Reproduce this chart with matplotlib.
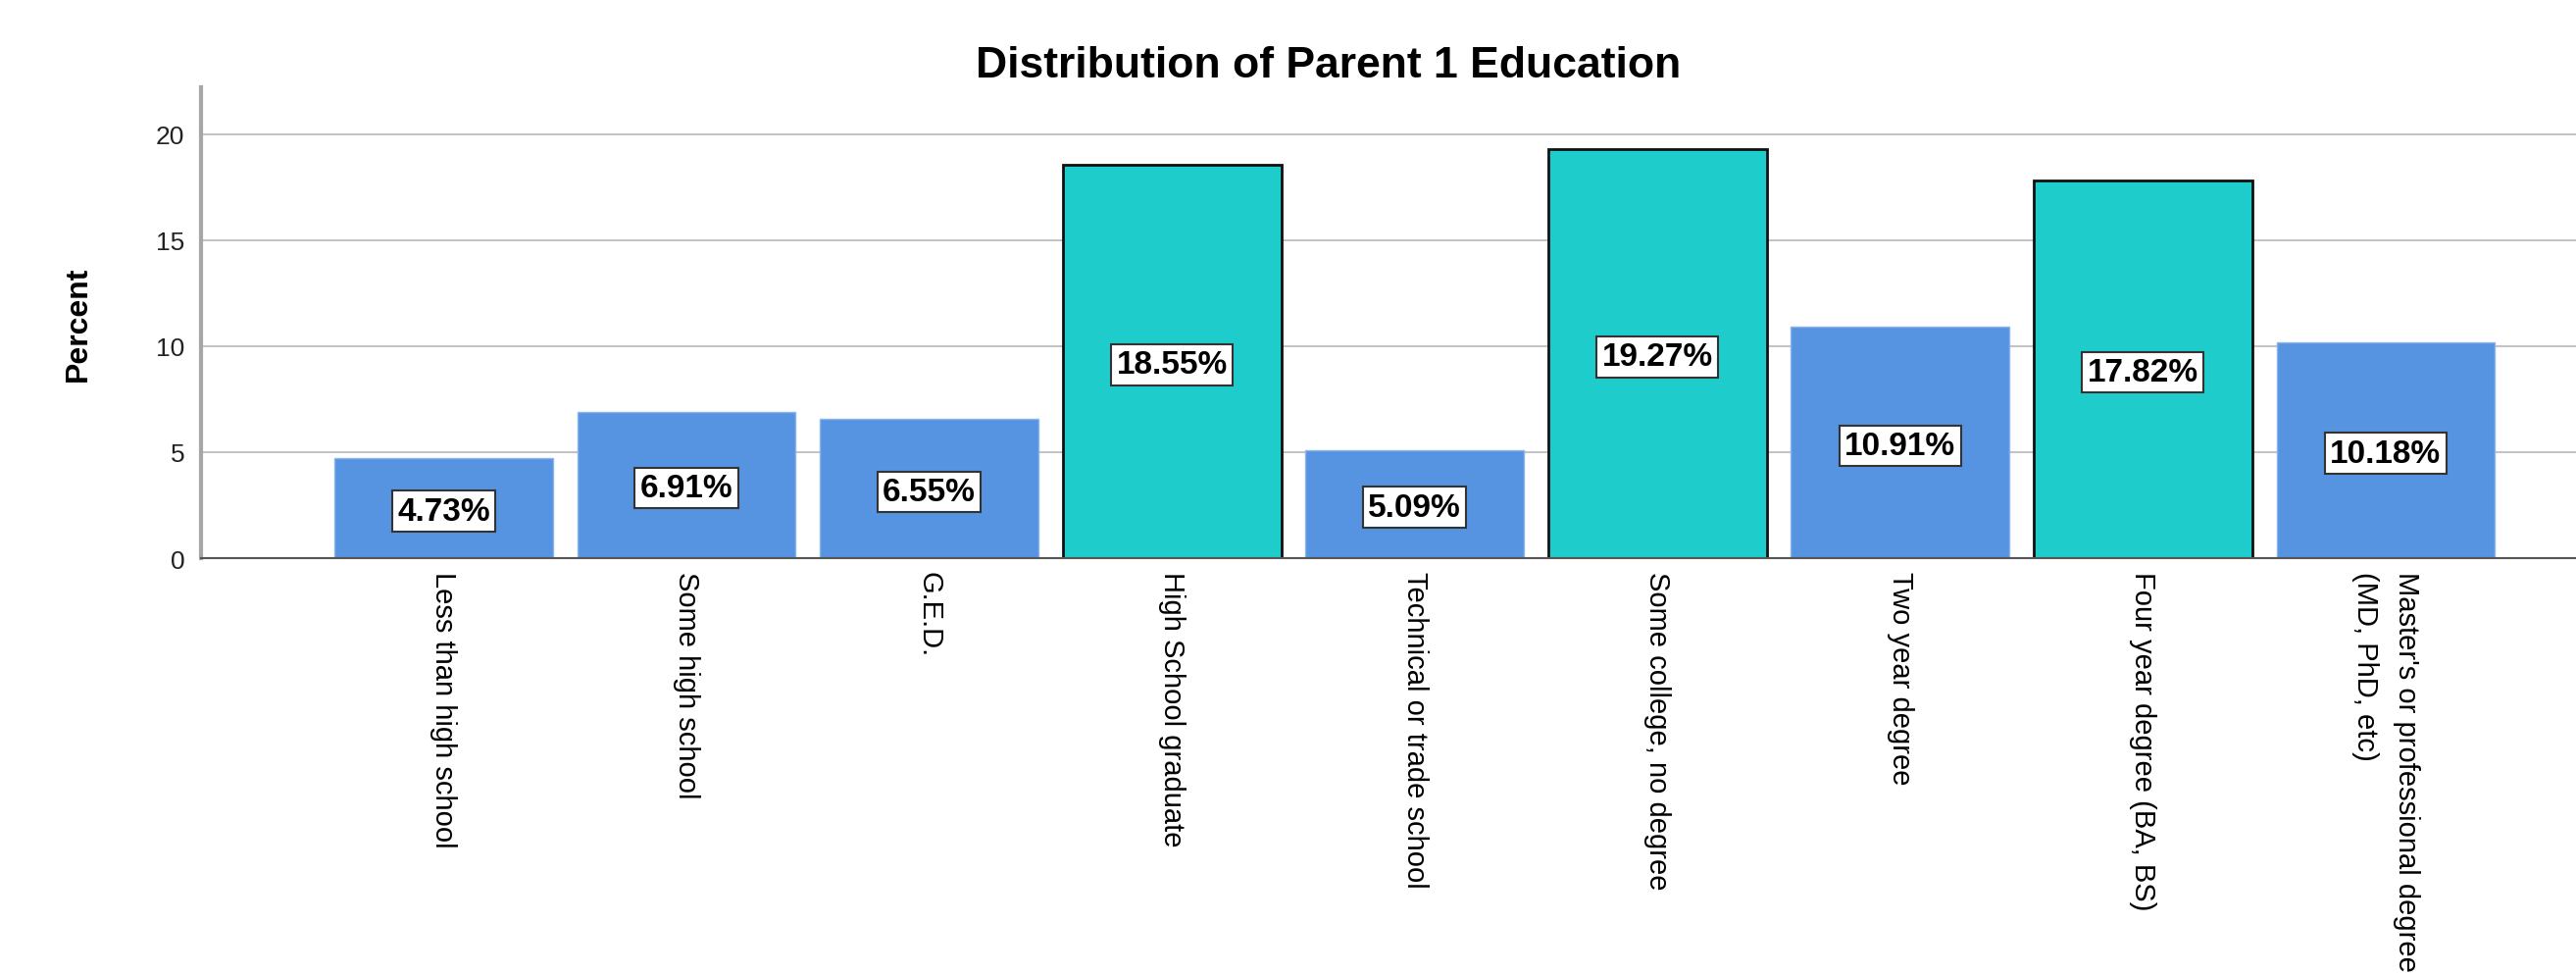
import matplotlib
matplotlib.use("Agg")
import matplotlib.pyplot as plt

plt.rcParams['font.family'] = ['Liberation Sans', 'DejaVu Sans']

categories = ["Less than high school", "Some high school", "G.E.D.",
              "High School graduate", "Technical or trade school",
              "Some college, no degree", "Two year degree",
              "Four year degree (BA, BS)",
              "Master's or professional degree\n(MD, PhD, etc)"]
percents = [4.73, 6.91, 6.55, 18.55, 5.09, 19.27, 10.91, 17.82, 10.18]
highlight = [False, False, False, True, False, True, False, True, False]

blue = '#5694e2'
teal = '#1ecdcb'

fig = plt.figure(figsize=(26.27, 9.95), dpi=100)
ax = fig.add_axes([0.078, 0.4271, 0.922, 0.4824])

x = list(range(len(categories)))
colors = [teal if h else blue for h in highlight]
edges = ['#111111' if h else '#8db4ec' for h in highlight]
widths = [2.0 if h else 1.0 for h in highlight]
ax.bar(x, percents, width=0.9, color=colors, edgecolor=edges, linewidth=widths, zorder=2)

# value boxes in the middle of each bar
for i, v in enumerate(percents):
    ax.text(i, v / 2 - 0.15, f'{v:.2f}%', ha='center', va='center', fontsize=24,
            fontweight='bold', zorder=3,
            bbox=dict(boxstyle='square,pad=0.16', fc='white', ec='#333333', lw=1.5))

ax.set_xlim(-1.0, 8.784)
ax.set_ylim(0, 22.2)
ax.set_yticks([0, 5, 10, 15, 20])
ax.yaxis.grid(True, color='#c4c4c4', linewidth=1.5)
ax.set_axisbelow(True)

ax.set_xticks(x)
ax.set_xticklabels(categories, rotation=-90, ha='center', va='top',
                   multialignment='left', fontsize=21, linespacing=1.6)
ax.tick_params(axis='x', length=0, pad=9)
ax.tick_params(axis='y', length=0, pad=12, labelsize=19, labelcolor='#222222')

for s in ['top', 'right']:
    ax.spines[s].set_visible(False)
ax.spines['left'].set_color('#a6a6a6')
ax.spines['left'].set_linewidth(3)
ax.spines['bottom'].set_color('#555555')
ax.spines['bottom'].set_linewidth(1.5)

fig.text(80 / 2627, 1 - 330 / 995, 'Percent', rotation=90, fontsize=23,
         fontweight='bold', ha='center', va='center')
fig.text(0.5158, 0.9205, 'Distribution of Parent 1 Education', ha='center',
         va='baseline', fontsize=32, fontweight='bold')

fig.savefig('out.png', dpi=100)
